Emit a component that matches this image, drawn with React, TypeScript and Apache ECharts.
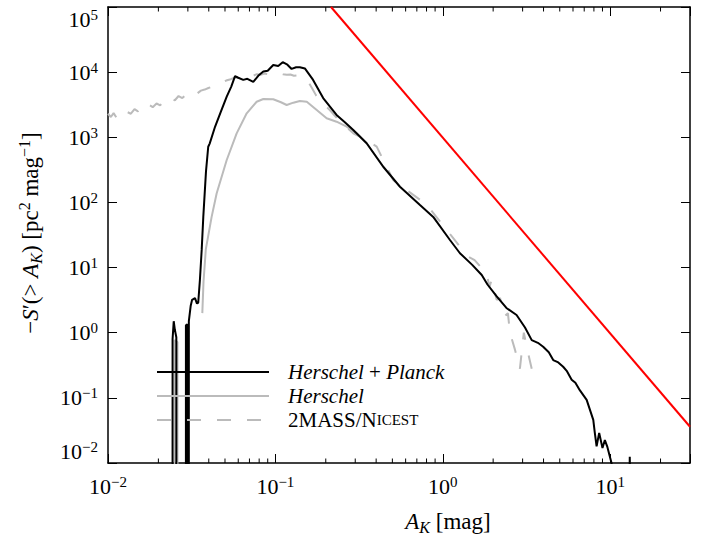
import React, { useEffect, useRef } from 'react';
import * as echarts from 'echarts';

const FONT = '"Liberation Serif", "Times New Roman", serif';

const X_MIN = 0.01;
const X_MAX = 30;
const Y_MIN = 0.01;
const Y_MAX = 1e5;

const MINOR_X = [0.02, 0.03, 0.04, 0.05, 0.06, 0.07, 0.08, 0.09, 0.2, 0.3, 0.4, 0.5, 0.6, 0.7, 0.8, 0.9, 2, 3, 4, 5, 6, 7, 8, 9, 20];

const HERSCHEL_PLANCK: [number, number][] = [
  [0.0243, 1e-4], [0.02431, 0.8], [0.0247, 1.5], [0.0251, 1.1], [0.0256, 0.85], [0.02561, 1e-4],
  [0.0292, 1e-4], [0.02921, 1.3], [0.0298, 1.35], [0.02981, 1e-4], [0.0304, 1e-4], [0.03041, 1.5],
  [0.0312, 2.6], [0.0318, 3.2], [0.0331, 3.4], [0.034, 2.8], [0.0346, 2.9], [0.0354, 6.4], [0.0363, 19],
  [0.0371, 60], [0.0385, 300], [0.0397, 716], [0.0405, 800], [0.0436, 1450], [0.047, 2400], [0.0512, 4200],
  [0.0545, 6000], [0.0574, 8700], [0.06, 8200], [0.0643, 7600], [0.068, 7900], [0.0738, 7100], [0.079, 8800],
  [0.0847, 10200], [0.09, 10500], [0.0971, 12900], [0.104, 12400], [0.1106, 14200], [0.118, 13000],
  [0.125, 11200], [0.133, 11900], [0.14, 11900], [0.15, 11400], [0.168, 7600], [0.193, 4000], [0.232, 2200],
  [0.26, 1700], [0.292, 1290], [0.351, 810], [0.441, 353], [0.555, 174], [0.731, 91], [0.877, 60],
  [1.104, 26.5], [1.267, 16.6], [1.5, 11], [1.71, 7.7], [1.85, 5.5], [2.1, 3.6], [2.4, 2.4], [2.76, 1.87],
  [3.1, 1.2], [3.4, 0.77], [3.7, 0.7], [3.98, 0.61], [4.3, 0.5], [4.57, 0.38], [4.9, 0.35], [5.24, 0.3],
  [5.5, 0.26], [5.89, 0.19], [6.2, 0.17], [6.6, 0.13], [7.24, 0.093], [7.93, 0.046], [8.1, 0.029],
  [8.3, 0.018], [8.6, 0.029], [9.0, 0.017], [9.3, 0.0225], [9.6, 0.018], [10.2, 0.0099], [10.5, 1e-4],
  [12.8, 1e-4], [13.1, 0.0125], [13.4, 1e-4],
];

const HERSCHEL_SPIKE: [number, number][] = [
  [0.025, 1e-4], [0.02501, 0.77], [0.026, 0.72], [0.02601, 1e-4],
];

const HERSCHEL: [number, number][] = [
  [0.0366, 2], [0.0372, 6], [0.0384, 19], [0.0416, 60], [0.0446, 138], [0.0512, 448],
  [0.0587, 1150], [0.0674, 2335], [0.0773, 3515], [0.0847, 3870], [0.0971, 3830], [0.108, 3450],
  [0.1168, 3130], [0.128, 3400], [0.14, 3610], [0.154, 3515], [0.1766, 2620], [0.2024, 1955], [0.232, 1735],
  [0.2667, 1453], [0.306, 1150], [0.351, 810], [0.441, 353],
];

const NICEST: [number, number][] = [
  [0.01, 2300], [0.0104, 2050], [0.0108, 2350], [0.0113, 1950], [0.0118, 2250], [0.0124, 2150], [0.013, 2450],
  [0.0137, 2300], [0.0144, 2700], [0.0151, 2500], [0.0159, 2950], [0.0167, 2750], [0.0176, 3150], [0.0185, 2900],
  [0.0195, 3300], [0.0205, 3100], [0.0216, 3600], [0.0227, 3400], [0.0239, 3900], [0.0251, 3700], [0.0264, 4300],
  [0.0278, 4000], [0.0292, 4500], [0.0308, 4300], [0.0324, 4900], [0.0341, 4700], [0.0359, 5200], [0.0378, 5400],
  [0.0398, 5700], [0.0419, 6000], [0.0441, 6500], [0.0464, 6800], [0.0488, 7100], [0.0514, 7500], [0.0541, 7800],
  [0.057, 8200], [0.06, 8300], [0.0631, 8700], [0.0665, 8600], [0.07, 9000], [0.0736, 8800], [0.0775, 9300],
  [0.0816, 9100], [0.0859, 9500], [0.0904, 9300], [0.0951, 9600], [0.1, 9400], [0.105, 9700], [0.111, 9300],
  [0.117, 9100], [0.123, 9200], [0.129, 8800], [0.136, 8900], [0.143, 8400], [0.15, 8000], [0.158, 7000],
  [0.166, 5600], [0.175, 4400], [0.185, 3700], [0.195, 3200], [0.212, 2600], [0.243, 1750], [0.292, 1150],
  [0.351, 900], [0.403, 720], [0.441, 450], [0.506, 220], [0.608, 155], [0.731, 110], [0.838, 80], [1.055, 38],
  [1.267, 21], [1.4, 15], [1.55, 13], [1.7, 10], [1.83, 8.2], [1.9, 5.0], [1.96, 6.5], [2.1, 3.2], [2.2, 3.4],
  [2.35, 1.8], [2.45, 2.0], [2.52, 1.0], [2.7, 0.55], [2.89, 0.28], [3.05, 1.0], [3.2, 0.55], [3.4, 0.28],
];

const POWER_LAW: [number, number][] = [[0.215, 100000], [30, 0.036]];

const LEGEND_ROWS = [
  { text: '{i|Herschel}{n| + }{i|Planck}', color: '#000000', dash: null as number[] | null },
  { text: '{i|Herschel}', color: '#bbbbbb', dash: null as number[] | null },
  { text: '{n|2MASS/N}{sc|ICEST}', color: '#bbbbbb', dash: [14, 16] },
];

const BLACK = '#000000';
const GRAY = '#bbbbbb';

function powLabel(v: number): string {
  const l = Math.log10(v);
  const e = Math.round(l);
  if (Math.abs(l - e) > 1e-6) return '';
  const s = e < 0 ? '\u2212' + String(-e) : String(e);
  return '{b|10}{s|' + s + '}';
}

export default function App() {
  const ref = useRef<HTMLDivElement>(null);
  useEffect(() => {
    const chart = echarts.init(ref.current!, null, { renderer: 'svg' });
    const tickRich = {
      b: { fontSize: 22, fontFamily: FONT, color: BLACK, lineHeight: 24 },
      s: { fontSize: 15, fontFamily: FONT, color: BLACK, lineHeight: 15, verticalAlign: 'top' },
    };
    const axisLine = { show: true, onZero: false, lineStyle: { color: BLACK, width: 1.5 } };
    const axisTick = { show: true, inside: true, length: 9, lineStyle: { color: BLACK, width: 1 } };
    const left = 108, top = 7, right = 17, bottom = 75;
    const legendX0 = 157, legendX1 = 269, legendTx = 288, legendY0 = 372, legendDy = 24;

    const graphics: any[] = [];
    LEGEND_ROWS.forEach((r, i) => {
      const y = legendY0 + i * legendDy;
      graphics.push({
        type: 'line',
        shape: { x1: legendX0, y1: y, x2: legendX1, y2: y },
        style: { stroke: r.color, lineWidth: 2, lineDash: r.dash || undefined },
        z: 10,
      });
      graphics.push({
        type: 'text',
        x: legendTx,
        y: y,
        z: 10,
        style: {
          text: r.text,
          fill: BLACK,
          fontFamily: FONT,
          fontSize: 21,
          verticalAlign: 'middle',
          align: 'left',
          rich: {
            i: { fontFamily: FONT, fontSize: 21, fontStyle: 'italic', fill: BLACK, lineHeight: 22 },
            n: { fontFamily: FONT, fontSize: 21, fill: BLACK, lineHeight: 22 },
            sc: { fontFamily: FONT, fontSize: 15, fill: BLACK, lineHeight: 22 },
          },
        },
      });
    });
    // axis titles
    const titleRich = {
      r: { fontFamily: FONT, fontSize: 23, fill: BLACK, lineHeight: 28 },
      i: { fontFamily: FONT, fontSize: 23, fontStyle: 'italic', fill: BLACK, lineHeight: 28 },
      sub: { fontFamily: FONT, fontSize: 16, fontStyle: 'italic', fill: BLACK, lineHeight: 16, verticalAlign: 'bottom' },
      sup: { fontFamily: FONT, fontSize: 16, fill: BLACK, lineHeight: 16, verticalAlign: 'top' },
    };
    graphics.push({
      type: 'text',
      x: 448,
      y: 521,
      style: {
        text: '{i|A}{sub|K}{r| [mag]}',
        fontFamily: FONT,
        fontSize: 23,
        fill: BLACK,
        align: 'center',
        verticalAlign: 'middle',
        rich: titleRich,
      },
    });
    graphics.push({
      type: 'text',
      x: 30,
      y: 233,
      rotation: Math.PI / 2,
      style: {
        text: '{r|\u2212}{i|S}{r|\u2032(> }{i|A}{sub|K}{r|) [pc}{sup|2}{r| mag}{sup|\u22121}{r|]}',
        fontFamily: FONT,
        fontSize: 23,
        fill: BLACK,
        align: 'center',
        verticalAlign: 'middle',
        rich: titleRich,
      },
    });

    const xBase = {
      type: 'log',
      logBase: 10,
      min: X_MIN,
      max: X_MAX,
      interval: 1,
      axisLine,
      axisTick,
      splitLine: { show: false },
      minorTick: { show: false },
    };
    const yBase = {
      type: 'log',
      logBase: 10,
      min: Y_MIN,
      max: Y_MAX,
      interval: 1,
      axisLine,
      axisTick,
      splitLine: { show: false },
    };

    const grayLine = { color: GRAY, width: 2 };

    chart.setOption({
      animation: false,
      backgroundColor: '#ffffff',
      grid: { left, top, right, bottom, containLabel: false },
      xAxis: [
        {
          ...xBase,
          position: 'bottom',
          axisLabel: { show: true, margin: 11, formatter: powLabel, rich: tickRich, showMinLabel: true, showMaxLabel: true },
        },
        { ...xBase, position: 'top', axisLabel: { show: false } },
      ],
      yAxis: [
        {
          ...yBase,
          position: 'left',
          axisLabel: {
            show: true,
            margin: 10,
            formatter: powLabel,
            rich: tickRich,
            showMinLabel: true,
            showMaxLabel: true,
            verticalAlignMaxLabel: 'top',
            verticalAlignMinLabel: 'bottom',
          },
        },
        { ...yBase, position: 'right', axisLabel: { show: false } },
      ],
      graphic: graphics,
      series: [
        {
          type: 'custom',
          name: 'minorTicks',
          xAxisIndex: 0,
          yAxisIndex: 0,
          silent: true,
          clip: false,
          data: MINOR_X.map((v) => [v, 1]),
          renderItem: (params: any, api: any) => {
            const x = api.coord([api.value(0), 1])[0];
            const cs = params.coordSys;
            const yb = cs.y + cs.height;
            return {
              type: 'group',
              children: [
                { type: 'line', shape: { x1: x, y1: yb, x2: x, y2: yb - 4.5 }, style: { stroke: BLACK, lineWidth: 1 } },
                { type: 'line', shape: { x1: x, y1: cs.y, x2: x, y2: cs.y + 4.5 }, style: { stroke: BLACK, lineWidth: 1 } },
              ],
            };
          },
          z: 5,
        },
        {
          type: 'line',
          name: '2MASS/NICEST',
          data: NICEST,
          symbol: 'none',
          lineStyle: { color: GRAY, width: 2, type: [14, 16] },
          z: 2,
        },
        {
          type: 'line',
          name: 'Herschel spike',
          data: HERSCHEL_SPIKE,
          symbol: 'none',
          lineStyle: grayLine,
          z: 3,
        },
        {
          type: 'line',
          name: 'Herschel',
          data: HERSCHEL,
          symbol: 'none',
          lineStyle: grayLine,
          z: 3,
        },
        {
          type: 'line',
          name: 'Herschel + Planck',
          data: HERSCHEL_PLANCK,
          symbol: 'none',
          lineStyle: { color: BLACK, width: 2 },
          z: 4,
        },
        {
          type: 'line',
          name: 'power law',
          data: POWER_LAW,
          symbol: 'none',
          lineStyle: { color: '#ff0000', width: 2 },
          z: 4,
        },
      ],
    });
    return () => chart.dispose();
  }, []);
  return (
    <div
      ref={ref}
      style={{ position: 'fixed', left: 0, top: 0, width: 707, height: 538, background: '#fff' }}
    />
  );
}
